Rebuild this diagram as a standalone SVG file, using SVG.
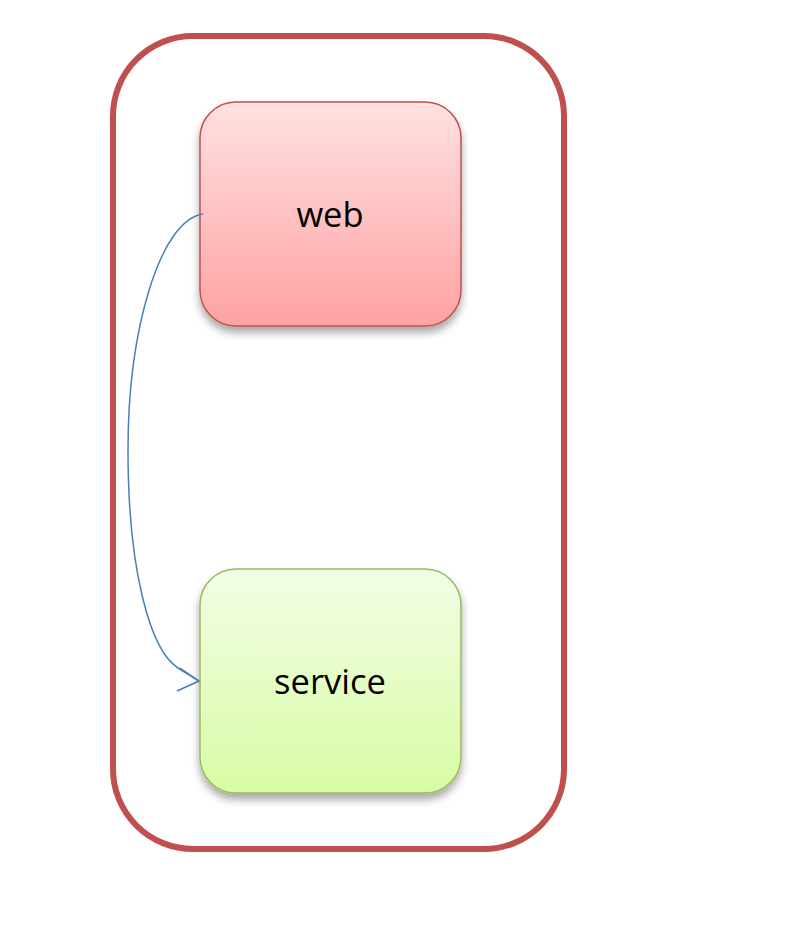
<svg xmlns="http://www.w3.org/2000/svg" width="795" height="930" viewBox="0 0 795 930">
<defs>
<linearGradient id="gRed" x1="0" y1="0" x2="0" y2="1">
<stop offset="0" stop-color="#ffe1e1"/>
<stop offset="1" stop-color="#ffa2a2"/>
</linearGradient>
<linearGradient id="gGreen" x1="0" y1="0" x2="0" y2="1">
<stop offset="0" stop-color="#f3fde6"/>
<stop offset="1" stop-color="#d8fca4"/>
</linearGradient>
<filter id="sh" x="-20%" y="-20%" width="140%" height="150%">
<feGaussianBlur in="SourceAlpha" stdDeviation="4"/>
<feOffset dx="0" dy="6" result="b"/>
<feComponentTransfer><feFuncA type="linear" slope="0.35"/></feComponentTransfer>
<feMerge><feMergeNode/><feMergeNode in="SourceGraphic"/></feMerge>
</filter>
</defs>
<style>
.lbl{font-family:"Open Sans","Noto Sans",sans-serif;font-size:34.5px;fill:#000;text-anchor:middle}
.conn{fill:none;stroke:#4a7ebb;stroke-width:1.5}
</style>
<rect width="795" height="930" fill="#fff"/>
<g id="container">
<rect x="113" y="36" width="451" height="813" rx="80" ry="80" fill="none" stroke="#c0504d" stroke-width="6"/>
</g>
<g id="web">
<rect x="200" y="102" width="261" height="224" rx="36" ry="36" fill="url(#gRed)" stroke="#c0504d" stroke-width="1.5" filter="url(#sh)"/>
<text class="lbl" x="330" y="227">web</text>
</g>
<g id="service">
<rect x="200" y="569" width="261" height="224" rx="36" ry="36" fill="url(#gGreen)" stroke="#9bbb59" stroke-width="1.5" filter="url(#sh)"/>
<text class="lbl" x="330" y="694">service</text>
</g>
<g id="connectors">
<path class="conn" d="M203,214 C160,220 128,330 128,450 C128,570 150,650 178,668 L199,681"/>
<path class="conn" d="M177,691 L199,681 L180,668"/>
</g>
</svg>
